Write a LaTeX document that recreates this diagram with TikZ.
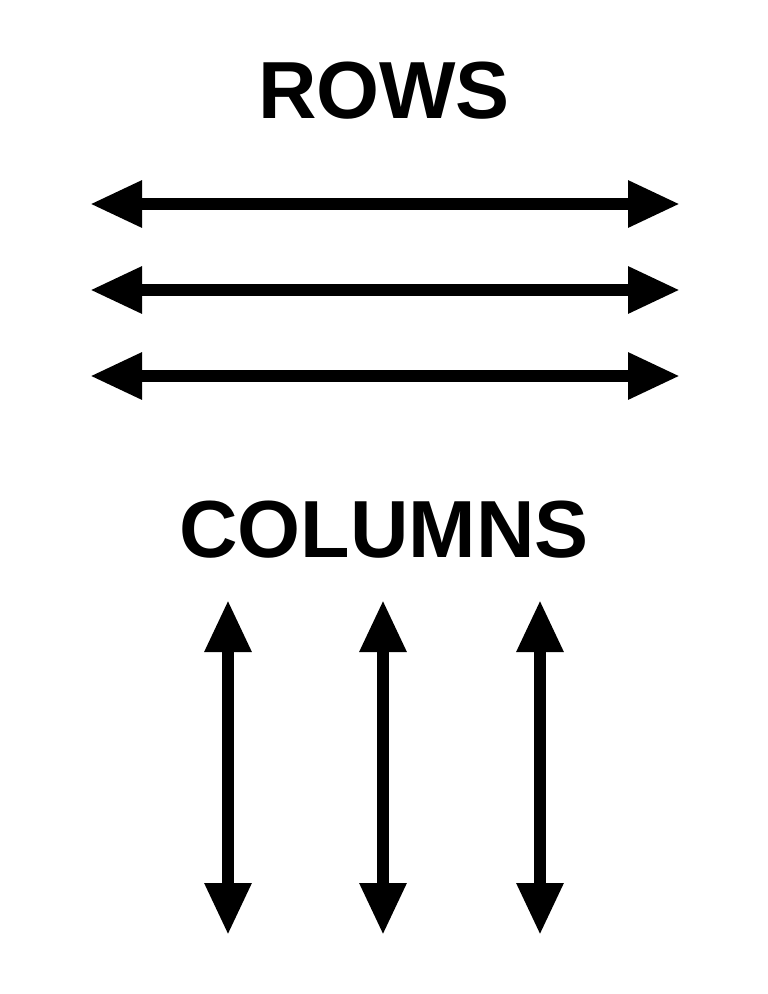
\documentclass[tikz,border=0pt]{standalone}
\usepackage{fontspec}
\setmainfont{Liberation Sans}
\usetikzlibrary{arrows.meta}
\begin{document}
\begin{tikzpicture}[x=1pt,y=-1pt,
  dbl/.style={line width=12pt,{Triangle[length=52pt,width=44pt]}-{Triangle[length=52pt,width=44pt]}},
  title/.style={font=\fontsize{81}{90}\selectfont\bfseries,inner sep=0pt,anchor=base}]
\useasboundingbox (0,0) rectangle (768,994);
\node[title] (rows) at (384,118) {ROWS};
\node[title] (cols) at (384,557) {COLUMNS};
\foreach \y [count=\i] in {204,290,376}{
  \coordinate (l\i) at (90,\y); \coordinate (r\i) at (680,\y);
  \draw[dbl] (l\i) -- (r\i);}
\foreach \x [count=\i] in {228,383,540}{
  \coordinate (t\i) at (\x,600); \coordinate (b\i) at (\x,935);
  \draw[dbl] (t\i) -- (b\i);}
\end{tikzpicture}
\end{document}
